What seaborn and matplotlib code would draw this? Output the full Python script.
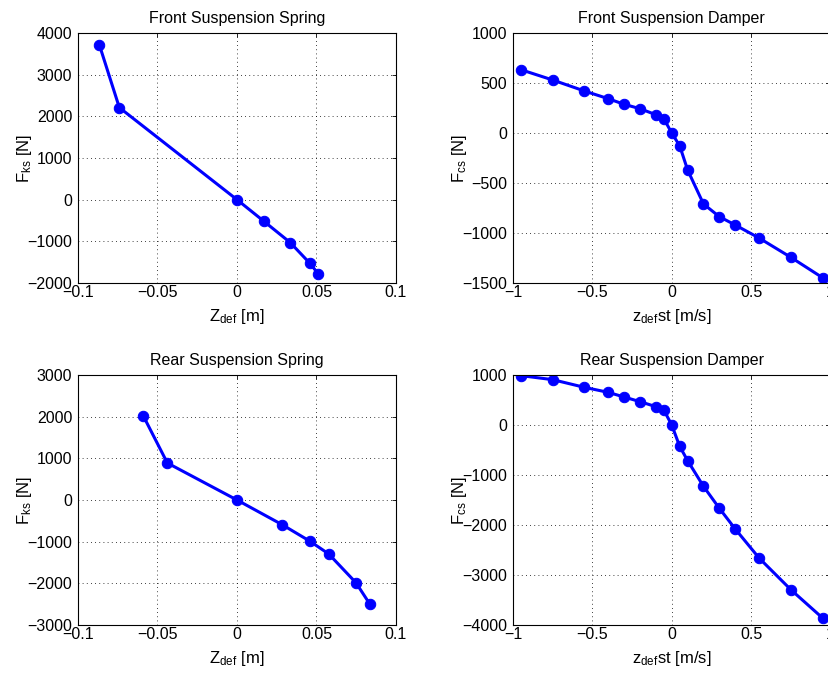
import matplotlib
matplotlib.use("Agg")
import matplotlib.pyplot as plt
import seaborn as sns
import numpy as np

# ---- data ----
front_spring_z = [-0.0866, -0.0740, 0.0, 0.0168, 0.0335, 0.0459, 0.0512]
front_spring_f = [3720, 2210, 0, -515, -1030, -1530, -1785]

rear_spring_z = [-0.0589, -0.0438, 0.0, 0.0283, 0.0459, 0.0577, 0.0748, 0.0834]
rear_spring_f = [2016, 888, 0, -590, -990, -1295, -1985, -2490]

damper_v = [-0.95, -0.75, -0.55, -0.40, -0.30, -0.20, -0.10, -0.05, 0.0,
            0.05, 0.10, 0.20, 0.30, 0.40, 0.55, 0.75, 0.95]
front_damper_f = [633, 530, 420, 343, 287, 243, 183, 143, 0,
                  -128, -370, -710, -837, -920, -1050, -1243, -1447]
rear_damper_f = [987, 907, 753, 653, 560, 467, 367, 300, 0,
                 -427, -713, -1227, -1667, -2080, -2660, -3293, -3860]

titles = ["Front Suspension Spring", "Front Suspension Damper",
          "Rear Suspension Spring", "Rear Suspension Damper"]
spring_xticks = [-0.1, -0.05, 0, 0.05, 0.1]
spring_xticklabels = ["\u22120.1", "\u22120.05", "0", "0.05", "0.1"]
damper_xticks = [-1, -0.5, 0, 0.5, 1]
damper_xticklabels = ["\u22121", "\u22120.5", "0", "0.5", "1"]
front_spring_yticks = [-2000, -1000, 0, 1000, 2000, 3000, 4000]
rear_spring_yticks = [-3000, -2000, -1000, 0, 1000, 2000, 3000]
front_damper_yticks = [-1500, -1000, -500, 0, 500, 1000]
rear_damper_yticks = [-4000, -3000, -2000, -1000, 0, 1000]

sns.set_style("white")
plt.rcParams["font.family"] = ["Liberation Sans", "DejaVu Sans"]
plt.rcParams["mathtext.fontset"] = "custom"
plt.rcParams["mathtext.rm"] = "Liberation Sans"
plt.rcParams["mathtext.it"] = "Liberation Sans"
plt.rcParams["mathtext.default"] = "regular"
plt.rcParams["axes.unicode_minus"] = True
plt.rcParams["text.color"] = "black"
plt.rcParams["axes.labelcolor"] = "black"
plt.rcParams["xtick.color"] = "black"
plt.rcParams["ytick.color"] = "black"

FS = 11.5
fig = plt.figure(figsize=(8.29, 6.73), dpi=100)
W, H = 829, 673
def box(l, t, r, b):
    return [l / W, 1 - b / H, (r - l) / W, (b - t) / H]

axes = [fig.add_axes(box(78, 33, 396, 283)),
        fig.add_axes(box(513, 33, 830.5, 283)),
        fig.add_axes(box(78, 375, 396, 625)),
        fig.add_axes(box(513, 375, 830.5, 625))]

series = [(front_spring_z, front_spring_f), (damper_v, front_damper_f),
          (rear_spring_z, rear_spring_f), (damper_v, rear_damper_f)]
xlabels = [r"Z$_{\mathrm{def}}$ [m]", r"z$_{\mathrm{def}}$st [m/s]",
           r"Z$_{\mathrm{def}}$ [m]", r"z$_{\mathrm{def}}$st [m/s]"]
ylabels = [r"F$_{\mathrm{ks}}$ [N]", r"F$_{\mathrm{cs}}$ [N]",
           r"F$_{\mathrm{ks}}$ [N]", r"F$_{\mathrm{cs}}$ [N]"]
yticks = [front_spring_yticks, front_damper_yticks, rear_spring_yticks, rear_damper_yticks]

for i, ax in enumerate(axes):
    x, y = series[i]
    sns.lineplot(x=x, y=y, ax=ax, sort=False, estimator=None, color="#0000ff",
                 linewidth=2.2, marker="o", markersize=7.5,
                 markeredgecolor="#0000ff", markerfacecolor="#0000ff")
    if i % 2 == 0:
        ax.set_xlim(-0.1, 0.1)
        ax.set_xticks(spring_xticks)
        ax.set_xticklabels(spring_xticklabels)
    else:
        ax.set_xlim(-1, 1)
        ax.set_xticks(damper_xticks)
        ax.set_xticklabels(damper_xticklabels)
    yt = yticks[i]
    ax.set_ylim(yt[0], yt[-1])
    ax.set_yticks(yt)
    ax.set_yticklabels([str(v).replace("-", "\u2212") for v in yt])
    ax.set_title(titles[i], fontsize=FS, pad=7, color="black")
    ax.set_xlabel(xlabels[i], fontsize=FS + 0.5, labelpad=5, color="black")
    ax.set_ylabel(ylabels[i], fontsize=FS + 0.5, color="black")
    ax.yaxis.set_label_coords(-0.138, 0.5)
    ax.grid(True, color="black", linestyle=(0, (1, 4)), linewidth=0.6)
    ax.tick_params(axis="x", pad=1.5)
    ax.tick_params(axis="y", pad=4)
    ax.tick_params(direction="in", length=3, width=0.6, top=True, right=True,
                   labelsize=FS, colors="black", labelcolor="black")
    for s in ax.spines.values():
        s.set_color("black")
        s.set_linewidth(0.8)
        s.set_visible(True)

fig.savefig("out.png", dpi=100)
